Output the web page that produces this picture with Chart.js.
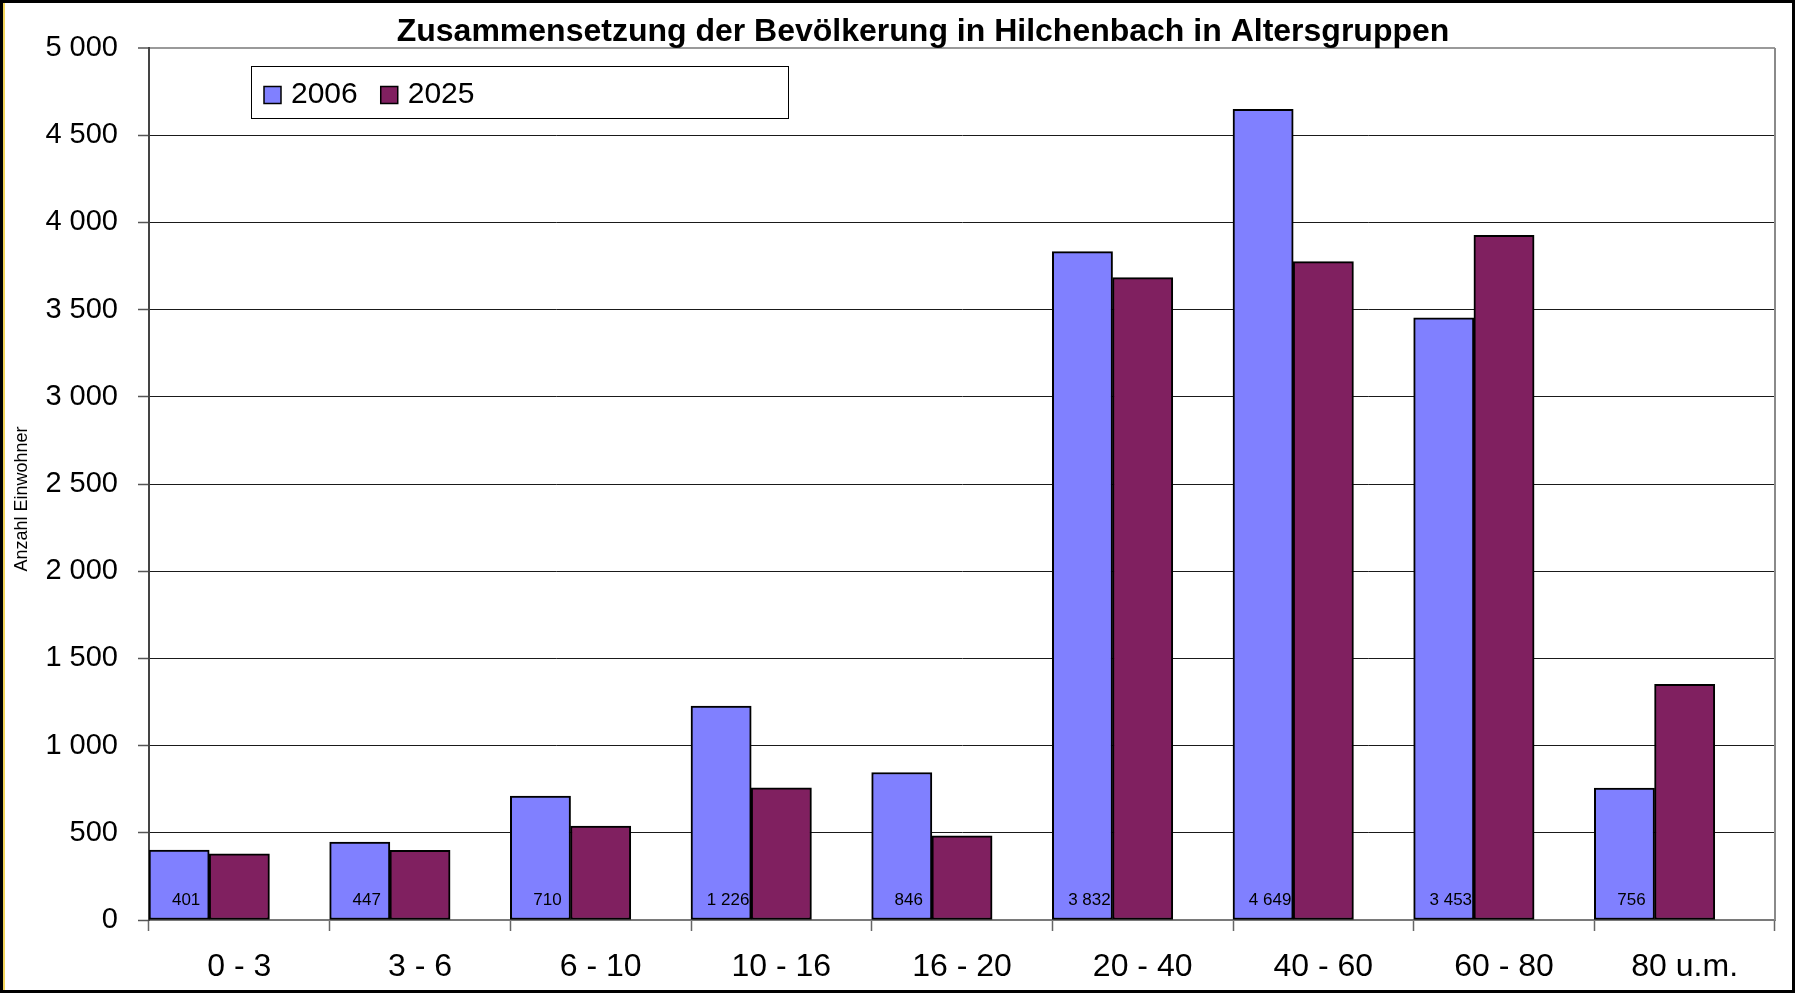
<!DOCTYPE html>
<html>
<head>
<meta charset="utf-8">
<title>Zusammensetzung der Bevölkerung in Hilchenbach</title>
<script src="https://cdn.jsdelivr.net/npm/chart.js@4.4.1/dist/chart.umd.min.js"></script>
<style>
  html, body { margin: 0; padding: 0; background: #fff; }
  #wrap { width: 1795px; height: 993px; }
  canvas { display: block; }
</style>
</head>
<body>
<div id="wrap"><canvas id="chart" width="1795" height="993"></canvas></div>
<script>
// Altersgruppen (Jahre)
const categories = ['0 - 3', '3 - 6', '6 - 10', '10 - 16', '16 - 20', '20 - 40', '40 - 60', '60 - 80', '80 u.m.'];
// Einwohner je Altersgruppe
const einwohner2006 = [401, 447, 710, 1226, 846, 3832, 4649, 3453, 756];
const einwohner2025 = [380, 400, 538, 758, 482, 3683, 3775, 3926, 1352];
const seriesLabels = ['2006', '2025'];
// Achsenteilung der Werteachse
const yMin = 0;
const yMax = 5000;
const yStep = 500;

const chartTitle = 'Zusammensetzung der Bevölkerung in Hilchenbach in Altersgruppen';
const yAxisTitle = 'Anzahl Einwohner';

const FONT = '"Liberation Sans", Arial, Helvetica, sans-serif';
const COLOR_2006 = '#8080FF';
const COLOR_2025 = '#802060';

// Tausendertrennung mit Leerzeichen, z. B. 1 226
function fmt(v) {
  return String(Math.round(v)).replace(/\B(?=(\d{3})+(?!\d))/g, ' ');
}

// leere Reihe als Platzhalter: jede Gruppe belegt zwei Drittel der Kategorie, linksbündig
const placeholder = categories.map(() => null);

// Rahmen um die ganze Grafik, Überschrift, Achsentitel und rechter Rand der Zeichenfläche
const framePlugin = {
  id: 'frame',
  beforeDraw(chart) {
    const c = chart.ctx;
    c.save();
    c.fillStyle = '#fff';
    c.fillRect(0, 0, chart.width, chart.height);
    c.restore();
  },
  afterDraw(chart) {
    const c = chart.ctx;
    const a = chart.chartArea;
    c.save();
    // rechter Rand der Zeichenfläche
    c.strokeStyle = '#8a8a8a';
    c.lineWidth = 2;
    c.beginPath();
    c.moveTo(a.right, a.top);
    c.lineTo(a.right, a.bottom);
    c.stroke();

    // Überschrift
    c.fillStyle = '#000';
    c.font = 'bold 32px ' + FONT;
    c.textAlign = 'center';
    c.textBaseline = 'middle';
    c.fillText(chartTitle, 923, 32);

    // Titel der Werteachse
    c.save();
    c.translate(22, 499);
    c.rotate(-Math.PI / 2);
    c.font = '18px ' + FONT;
    c.fillText(yAxisTitle, 0, 0);
    c.restore();

    // äußerer Rahmen
    c.strokeStyle = '#000';
    c.lineWidth = 3;
    c.strokeRect(1.5, 1.5, chart.width - 3, chart.height - 3);
    c.strokeStyle = '#F2D45C';
    c.lineWidth = 2;
    c.beginPath();
    c.moveTo(4, 3);
    c.lineTo(4, chart.height - 3);
    c.stroke();
    c.restore();
  }
};

// Werte der Reihe 2006 am Fuß der Säulen
const valueLabels = {
  id: 'valueLabels',
  afterDatasetsDraw(chart) {
    const c = chart.ctx;
    const meta = chart.getDatasetMeta(0);
    const data = chart.data.datasets[0].data;
    c.save();
    c.font = '17px ' + FONT;
    c.fillStyle = '#000';
    c.textAlign = 'center';
    c.textBaseline = 'middle';
    meta.data.forEach((bar, i) => {
      c.fillText(fmt(data[i]), bar.x + 7, bar.base - 19);
    });
    c.restore();
  }
};

// Legende im Kasten oben links in der Zeichenfläche
const legendBox = {
  id: 'legendBox',
  afterDraw(chart) {
    const c = chart.ctx;
    const a = chart.chartArea;
    const x0 = a.left + 102, y0 = 66, w = 537, h = 52;
    c.save();
    c.fillStyle = '#fff';
    c.fillRect(x0, y0, w, h);
    c.strokeStyle = '#000';
    c.lineWidth = 1;
    c.strokeRect(x0 + 0.5, y0 + 0.5, w, h);
    c.font = '30px ' + FONT;
    c.textBaseline = 'middle';
    c.textAlign = 'left';
    let x = x0 + 13;
    const cy = y0 + h / 2 + 3;
    chart.data.datasets.slice(0, 2).forEach(ds => {
      const s = 17;
      c.fillStyle = ds.backgroundColor;
      c.fillRect(x, cy - s / 2, s, s);
      c.strokeStyle = '#000';
      c.lineWidth = 1.5;
      c.strokeRect(x, cy - s / 2, s, s);
      x += s + 10;
      c.fillStyle = '#000';
      c.fillText(ds.label, x, cy);
      x += c.measureText(ds.label).width + 23;
    });
    c.restore();
  }
};

Chart.defaults.font.family = FONT;
Chart.defaults.color = '#000';

new Chart(document.getElementById('chart'), {
  type: 'bar',
  data: {
    labels: categories,
    datasets: [
      { label: seriesLabels[0], data: einwohner2006, backgroundColor: COLOR_2006,
        borderColor: '#000', borderWidth: 2, borderSkipped: false },
      { label: seriesLabels[1], data: einwohner2025, backgroundColor: COLOR_2025,
        borderColor: '#000', borderWidth: 2, borderSkipped: false },
      { label: '', data: placeholder, backgroundColor: 'rgba(0,0,0,0)', borderWidth: 0 }
    ]
  },
  options: {
    responsive: false,
    animation: false,
    events: [],
    datasets: { bar: { categoryPercentage: 1, barPercentage: 1 } },
    layout: { padding: { left: 0, right: 20, top: 48, bottom: 0 } },
    plugins: {
      legend: { display: false },
      tooltip: { enabled: false },
      title: { display: false }
    },
    scales: {
      x: {
        offset: true,
        grid: { offset: true, drawOnChartArea: false, drawTicks: true, tickLength: 11,
                tickColor: '#666', tickWidth: 1.5 },
        border: { display: true, color: '#7a7a7a', width: 2 },
        ticks: { font: { size: 32 }, color: '#000', padding: 17, maxRotation: 0 },
        afterFit(scale) { scale.height = 73; }
      },
      y: {
        min: yMin,
        max: yMax,
        ticks: { stepSize: yStep, font: { size: 29 }, color: '#000', padding: 20,
                 callback: v => fmt(v) },
        grid: {
          color: ctx => (ctx.tick && ctx.tick.value === yMax) ? '#9a9a9a' : '#1a1a1a',
          lineWidth: ctx => (ctx.tick && ctx.tick.value === yMax) ? 2 : 1,
          tickLength: 11, tickColor: '#555', tickWidth: 1.5
        },
        border: { display: true, color: '#444', width: 2 },
        title: { display: false },
        afterFit(scale) { scale.width = 149; }
      }
    }
  },
  plugins: [framePlugin, valueLabels, legendBox]
});
</script>
</body>
</html>
